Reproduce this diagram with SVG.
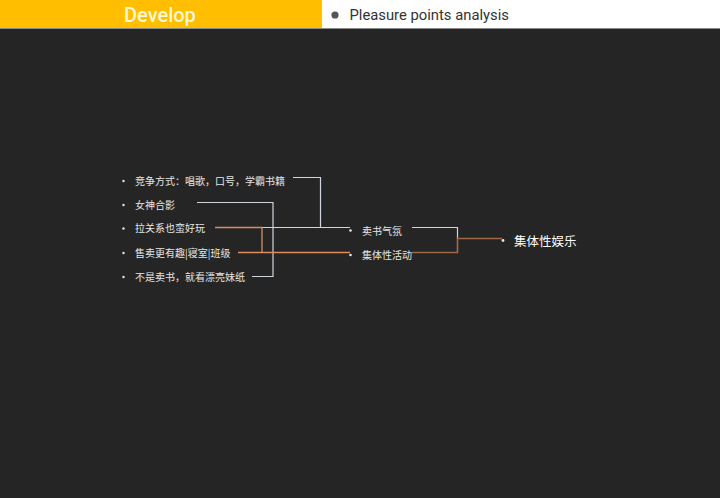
<svg xmlns="http://www.w3.org/2000/svg" width="720" height="498" viewBox="0 0 720 498">
<style>
.lbl{font-family:"Noto Sans CJK SC","Noto Sans",sans-serif;font-size:10px;fill:#e6e6e6}
.big{font-family:"Noto Sans CJK SC","Noto Sans",sans-serif;font-size:12.5px;fill:#ffffff}
.w{stroke:#cfd6de;stroke-width:1.2;fill:none}
.o{stroke:#dc8a5e;stroke-width:1.3;fill:none}
.b{stroke:#a06a48;stroke-width:1.6;fill:none}
.dot{fill:#e6e6e6}
</style>
<rect x="0" y="0" width="720" height="498" fill="#252525"/>
<g id="header">
<rect x="0" y="0" width="322" height="28" fill="#ffbf00"/>
<rect x="322" y="0" width="398" height="28" fill="#ffffff"/>
<line x1="0" y1="28.5" x2="720" y2="28.5" stroke="#8a8a8a" stroke-width="1"/>
<text x="124" y="21.5" font-family="Roboto,'Liberation Sans',sans-serif" font-size="20" font-weight="500" fill="#fff7d6">Develop</text>
<circle cx="335" cy="15" r="3.6" fill="#555555"/>
<text x="349.5" y="20" font-family="Roboto,'Liberation Sans',sans-serif" font-size="14.8" fill="#333333">Pleasure points analysis</text>
</g>
<g id="connectors">
<polyline class="w" points="293,177.5 320.5,177.5 320.5,227.5"/>
<polyline class="w" points="197,202.5 273,202.5 273,276.5 252,276.5"/>
<line class="w" x1="262" y1="227.5" x2="350" y2="227.5"/>
<polyline class="o" points="215,227.5 262,227.5 262,252.5"/>
<line class="o" x1="238" y1="252.5" x2="350" y2="252.5"/>
<polyline class="w" points="412,227.5 457.5,227.5 457.5,238.5"/>
<polyline class="b" points="412,252.5 457.5,252.5 457.5,238.5 502,238.5"/>
</g>
<g id="n1"><circle class="dot" cx="123.5" cy="181" r="1.2"/><text class="lbl" x="135" y="184.5">竞争方式：唱歌，口号，学霸书籍</text></g>
<g id="n2"><circle class="dot" cx="123.5" cy="205" r="1.2"/><text class="lbl" x="135" y="208.5">女神合影</text></g>
<g id="n3"><circle class="dot" cx="123.5" cy="228.5" r="1.2"/><text class="lbl" x="135" y="232">拉关系也蛮好玩</text></g>
<g id="n4"><circle class="dot" cx="123.5" cy="253" r="1.2"/><text class="lbl" x="135" y="256.5">售卖更有趣|寝室|班级</text></g>
<g id="n5"><circle class="dot" cx="123.5" cy="277" r="1.2"/><text class="lbl" x="135" y="280.5">不是卖书，就看漂亮妹纸</text></g>
<g id="m1"><circle class="dot" cx="350.5" cy="230.5" r="1.3"/><text class="lbl" x="362" y="234.5">卖书气氛</text></g>
<g id="m2"><circle class="dot" cx="350.5" cy="255" r="1.3"/><text class="lbl" x="362" y="259">集体性活动</text></g>
<g id="root"><circle class="dot" cx="503" cy="240.5" r="1.4"/><text class="big" x="514" y="246">集体性娱乐</text></g>
</svg>
